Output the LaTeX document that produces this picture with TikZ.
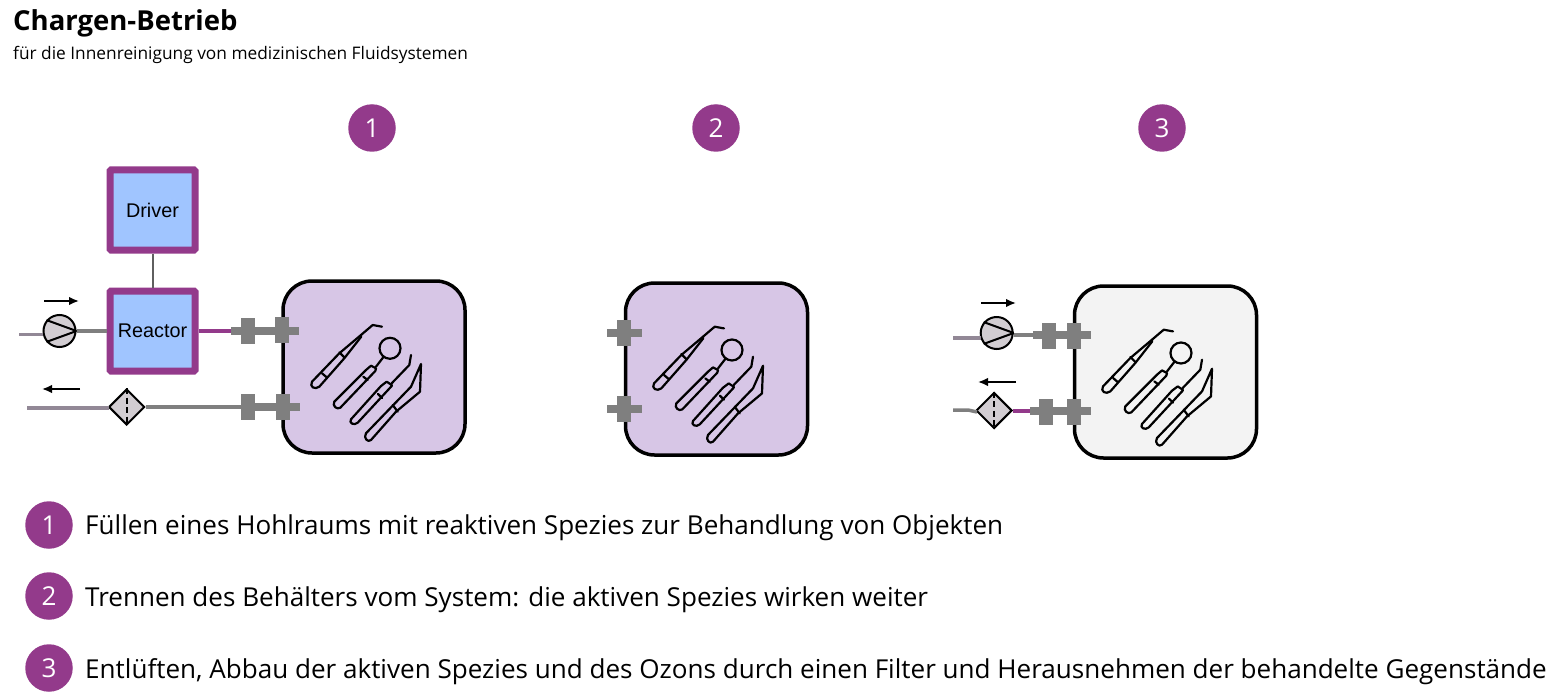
\documentclass[tikz,border=0pt]{standalone}
\usepackage{fontspec}
\setmainfont{Open Sans}
\newfontfamily\arialf{Liberation Sans}
\definecolor{plum}{HTML}{933A8B}
\definecolor{sky}{HTML}{A0C5FF}
\definecolor{pipegrey}{HTML}{7F7F7F}
\definecolor{pipemix}{HTML}{928896}
\definecolor{lilac}{HTML}{D7C6E6}
\definecolor{pale}{HTML}{F3F3F3}
\definecolor{valvefill}{HTML}{D2CDD2}
\usetikzlibrary{shapes.geometric,arrows.meta}
\tikzset{
  x=1pt,y=-1pt,
  unit/.style={draw=plum,line width=7pt,fill=sky,rounded corners=1pt,minimum width=85pt,minimum height=80pt,inner sep=0pt,font=\arialf\fontsize{19.8}{20}\selectfont},
  vessel/.style={draw=black,line width=3.5pt,rounded corners=29pt,minimum width=182pt,minimum height=172pt,inner sep=0pt},
  badge/.style={circle,fill=plum,text=white,minimum size=47.5pt,inner sep=0pt,font=\fontsize{26}{26}\selectfont},
  pipe/.style={draw=pipegrey,line width=3.5pt},
  pipeold/.style={draw=pipemix,line width=3.5pt},
  pipehot/.style={draw=plum,line width=3.5pt},
  coupling/.style={draw=none,fill=pipegrey,minimum width=14pt,minimum height=26pt,inner sep=0pt},
  bar/.style={draw=pipegrey,line width=8pt},
  pumpbody/.style={circle,draw=black,line width=2pt,fill=valvefill,minimum size=32pt,inner sep=0pt},
  filterbody/.style={diamond,draw=black,line width=2pt,fill=valvefill,minimum width=36pt,minimum height=36pt,inner sep=0pt},
  flow/.style={draw=black,line width=1.7pt,-{Latex[length=10pt,width=8.5pt]}},
  instr/.style={draw=black,line width=2.2pt,line join=round,line cap=round},
  caption/.style={anchor=base west,inner sep=0pt,font=\fontsize{26.07}{30}\selectfont},
}
\newcommand{\dentaltools}[2]{%
  \begin{scope}[shift={(#1,#2)}]
    % scaler
    \draw[instr] (29,101.7) -- (56.3,73.3) -- (78,55) -- (89.7,45) -- (99,46.7);
    \draw[instr] (29,101.7) .. controls (26,107) and (32,110) .. (36.3,106.7) -- (61.3,78.3) -- (78,57) -- (78,55);
    \draw[instr] (39,93.3) -- (43.7,97.3);
    \draw[instr] (56.3,72.3) -- (61.3,77.3);
    % mirror
    \draw[instr] (107,68.3) circle[radius=10.5];
    \draw[instr] (100.5,77) -- (93,86.7);
    \draw[instr] (51.3,121.7) .. controls (49,126) and (54,130) .. (57.3,127.7) -- (92.3,91) -- (93,88.3) -- (88,85.7) -- (83,90) -- cycle;
    \draw[instr] (80.3,96.7) -- (84.7,100);
    % probe
    \draw[instr] (68,139.3) .. controls (65.5,143) and (71,146) .. (74.7,142.7) -- (108.7,106) -- (108.7,105) -- (103.7,101.7) -- (98,106) -- cycle;
    \draw[instr] (108.7,103.3) -- (126.3,85) -- (128,75);
    \draw[instr] (95,114) -- (99,118);
    % knife
    \draw[instr] (83,153.3) .. controls (80,158) and (85,163) .. (88,160) -- (113,131.7) -- (137,111.7) -- (138,84) -- (128,106.7) -- cycle;
    \draw[instr] (109.7,125) -- (114.7,131.7);
  \end{scope}}
\begin{document}
\begin{tikzpicture}
\useasboundingbox (0,0) rectangle (1556,698);
% titles
\node[anchor=base west,inner sep=0pt,font=\bfseries\fontsize{27.5}{30}\selectfont] (title) at (13,31) {Chargen-Betrieb};
\node[anchor=base west,inner sep=0pt,font=\fontsize{17.3}{20}\selectfont] (subtitle) at (13,59.5) {für die Innenreinigung von medizinischen Fluidsystemen};
% step badges
\node[badge] (b1) at (372,128) {1};
\node[badge] (b2) at (716,128) {2};
\node[badge] (b3) at (1162,128) {3};
% vessels
\node[vessel,fill=lilac] (v1) at (374,367) {};
\node[vessel,fill=lilac] (v2) at (716.5,369) {};
\node[vessel,fill=pale] (v3) at (1165.5,372) {};
\dentaltools{283}{280}
\dentaltools{625}{281.7}
\dentaltools{1074}{284.7}
% panel 1
\node[unit] (driver) at (152.5,210) {Driver};
\node[unit] (reactor) at (152.5,331) {Reactor};
\draw[draw=pipegrey!75!black,line width=2pt] (driver) -- (reactor);
\node[pumpbody] (pump1) at (59.5,331) {};
\node[filterbody] (filter1) at (126.7,407) {};
\coordinate (in1) at (19,334.5);
\coordinate (out1) at (27,408);
\coordinate (pumpL1) at (43,334.5);
\coordinate (filtL1) at (109,408);
\draw[pipeold] (in1) -- (pumpL1);
\draw[pipeold] (out1) -- (filtL1);
\draw[pipe] (pump1.east) -- (reactor.west);
\node[coupling] (c11) at (248,331) {};
\node[coupling] (c12) at (282,330) {};
\node[coupling] (c13) at (248,407) {};
\node[coupling] (c14) at (282.5,407) {};
\coordinate (e11) at (231,331);
\coordinate (e12) at (299,331);
\coordinate (e13) at (300,407);
\draw[pipehot] (reactor.east) -- (e11);
\draw[bar] (e11) -- (e12);
\draw[pipe] (filter1.east) -- (c13.west);
\draw[bar] (c13.west) -- (e13);
\draw[flow] (44,301) -- (79,301);
\draw[flow] (80,389) -- (42,389);
% panel 2
\node[coupling] (c21) at (624,333) {};
\node[coupling] (c22) at (624,409) {};
\coordinate (e21) at (607,332.5);
\coordinate (e22) at (642,332.5);
\coordinate (e23) at (607,409);
\coordinate (e24) at (642,409);
\draw[bar] (e21) -- (e22);
\draw[bar] (e23) -- (e24);
% panel 3
\node[pumpbody] (pump3) at (996.7,333) {};
\node[filterbody] (filter3) at (994,410.5) {};
\coordinate (in3) at (953,338);
\coordinate (pumpL3) at (981,338);
\coordinate (out3a) at (953,410);
\coordinate (out3b) at (968,410);
\coordinate (out3c) at (977,412);
\node[coupling] (c31) at (1049,336) {};
\node[coupling] (c32) at (1074,336) {};
\node[coupling] (c33) at (1046,412) {};
\node[coupling] (c34) at (1074,412) {};
\coordinate (e31) at (1033,335);
\coordinate (e32) at (1091,335);
\coordinate (e33) at (1030,411);
\coordinate (e34) at (1091,411);
\draw[pipeold] (in3) -- (pumpL3);
\draw[pipe] (out3a) -- (out3b) -- (out3c);
\draw[pipe] (pump3.east |- e31) -- (e31);
\draw[pipehot] (filter3.east |- e33) -- (e33);
\draw[bar] (e31) -- (e32);
\draw[bar] (e33) -- (e34);
\draw[flow] (981,303) -- (1016,303);
\draw[flow] (1016,382) -- (978,382);
% pump and filter faces
\foreach \p in {pump1,pump3}{
  \draw[draw=black,line width=2pt] (\p.east) -- (\p.140) (\p.east) -- (\p.220);
}
\foreach \f in {filter1,filter3}{
  \draw[draw=black,line width=2pt,dash pattern=on 6pt off 3.5pt] (\f.north) -- (\f.south);
}
% legend
\node[badge] (l1) at (49,525) {1};
\node[badge] (l2) at (49,596) {2};
\node[badge] (l3) at (49,668) {3};
\node[caption] (t1) at (85,534) {Füllen eines Hohlraums mit reaktiven Spezies zur Behandlung von Objekten};
\node[caption] (t2) at (85,606) {Trennen des Behälters vom System: die aktiven Spezies wirken weiter};
\node[caption] (t3) at (85,678) {Entlüften, Abbau der aktiven Spezies und des Ozons durch einen Filter und Herausnehmen der behandelte Gegenstände};
\end{tikzpicture}
\end{document}
